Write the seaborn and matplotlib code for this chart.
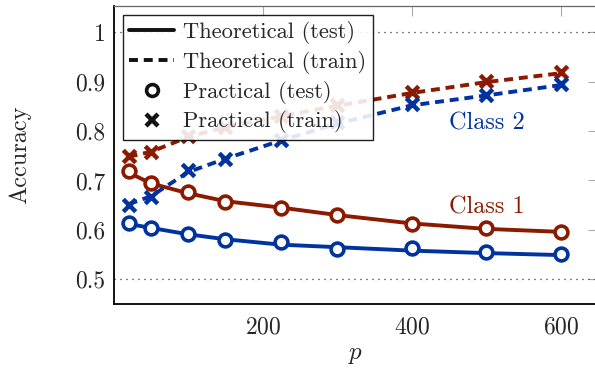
import numpy as np
import pandas as pd
import matplotlib
matplotlib.use("Agg")
import matplotlib.pyplot as plt
import seaborn as sns
from matplotlib.lines import Line2D

# data
p = [20, 50, 100, 150, 225, 300, 400, 500, 600]

c1_theo_test = [0.716, 0.694, 0.674, 0.658, 0.645, 0.630, 0.613, 0.602, 0.596]
c1_theo_train = [0.748, 0.758, 0.788, 0.808, 0.830, 0.851, 0.877, 0.899, 0.917]
c1_prac_test = [0.720, 0.695, 0.676, 0.657, 0.645, 0.631, 0.612, 0.603, 0.595]
c1_prac_train = [0.750, 0.757, 0.789, 0.808, 0.831, 0.852, 0.879, 0.902, 0.919]

c2_theo_test = [0.612, 0.604, 0.591, 0.581, 0.570, 0.565, 0.558, 0.553, 0.549]
c2_theo_train = [0.652, 0.668, 0.717, 0.744, 0.781, 0.815, 0.852, 0.872, 0.893]
c2_prac_test = [0.614, 0.604, 0.591, 0.580, 0.576, 0.562, 0.563, 0.555, 0.552]
c2_prac_train = [0.650, 0.666, 0.721, 0.744, 0.782, 0.818, 0.854, 0.873, 0.895]

yticks = [0.5, 0.6, 0.7, 0.8, 0.9, 1.0]
ytick_labels = ["0.5", "0.6", "0.7", "0.8", "0.9", "1"]
xticks = [200, 400, 600]

red = "#8a1a00"
blue = "#0033a0"

sns.set_style("white")
plt.rcParams["font.family"] = ["cmr10", "DejaVu Serif"]
plt.rcParams["mathtext.fontset"] = "cm"
plt.rcParams["axes.formatter.use_mathtext"] = True

fig = plt.figure(figsize=(5.95, 3.7), dpi=100)
ax = fig.add_axes([113.7 / 595, 66 / 370, 484.3 / 595, 298 / 370])

dash = (0, (2.3, 1.5))
lw = 2.8

for col, test, train in [(red, c1_theo_test, c1_theo_train),
                         (blue, c2_theo_test, c2_theo_train)]:
    sns.lineplot(x=p, y=test, color=col, lw=lw, ax=ax, zorder=3)
    l = sns.lineplot(x=p, y=train, color=col, lw=lw, ax=ax, zorder=3)
    l.lines[-1].set_linestyle(dash)

for col, test, train in [(red, c1_prac_test, c1_prac_train),
                         (blue, c2_prac_test, c2_prac_train)]:
    sns.scatterplot(x=p, y=test, marker="o", s=85, facecolor="white",
                    edgecolor=col, linewidth=2.6, ax=ax, zorder=4)
    sns.scatterplot(x=p, y=train, marker="x", s=80, color=col,
                    linewidth=3.2, ax=ax, zorder=4)

for yy in [0.5, 1.0]:
    ax.axhline(yy, color="k", lw=0.9, ls=(0, (0.8, 4)), zorder=1)

ax.set_xlim(0, 650)
ax.set_ylim(0.45, 1.053)
ax.set_xticks(xticks)
ax.set_yticks(yticks)
ax.set_yticklabels(ytick_labels)
ax.tick_params(axis="both", direction="in", length=7, width=0.8,
               color="#aaaaaa", labelsize=17, pad=6,
               top=True, right=True)
ax.tick_params(axis="x", pad=9)

for s in ["left", "bottom"]:
    ax.spines[s].set_color("black")
    ax.spines[s].set_linewidth(1.3)
for s in ["top", "right"]:
    ax.spines[s].set_color("#666666")
    ax.spines[s].set_linewidth(0.9)

ax.set_xlabel("$p$", fontsize=18, labelpad=4)
ax.set_ylabel("Accuracy", fontsize=17.5, labelpad=32)

ax.text(501, 0.816, "Class 2", color=blue, fontsize=17.5, ha="center", va="center")
ax.text(501, 0.646, "Class 1", color=red, fontsize=17.5, ha="center", va="center")

handles = [
    Line2D([], [], color="#111111", lw=lw),
    Line2D([], [], color="#111111", lw=lw, ls=dash),
    Line2D([], [], color="#111111", ls="none", marker="o", ms=8.5,
           mfc="white", mew=2.6),
    Line2D([], [], color="#111111", ls="none", marker="x", ms=9, mew=3.2),
]
labels = ["Theoretical (test)", "Theoretical (train)",
          "Practical (test)", "Practical (train)"]
leg = ax.legend(handles, labels, loc="upper left", bbox_to_anchor=(0.019, 0.97),
                borderaxespad=0, fontsize=16.2, frameon=True, fancybox=False,
                edgecolor="black", framealpha=0.88, handlelength=2.0,
                handletextpad=0.4, labelspacing=0.3, borderpad=0.28)
leg.get_frame().set_linewidth(1.0)
leg.set_zorder(5)

fig.savefig("out.png", dpi=100)
